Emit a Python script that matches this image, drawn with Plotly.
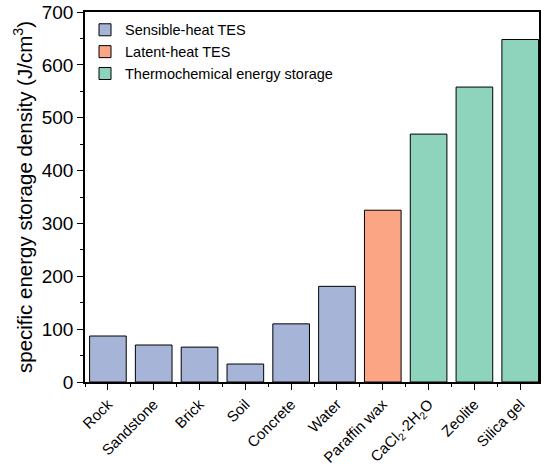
import plotly.graph_objects as go

categories = ["Rock", "Sandstone", "Brick", "Soil", "Concrete", "Water",
              "Paraffin wax", "CaCl<sub>2</sub>·2H<sub>2</sub>O", "Zeolite", "Silica gel"]
sensible_vals = [87, 70, 66, 34, 110, 181]
latent_vals = [325]
thermo_vals = [469, 558, 648]

idx = list(range(len(categories)))
fig = go.Figure()
fig.add_trace(go.Bar(x=idx[0:6], y=sensible_vals, name="Sensible-heat TES", width=0.8,
                     marker=dict(color="#A6B4D8", line=dict(color="black", width=1))))
fig.add_trace(go.Bar(x=idx[6:7], y=latent_vals, name="Latent-heat TES", width=0.8,
                     marker=dict(color="#FCA584", line=dict(color="black", width=1))))
fig.add_trace(go.Bar(x=idx[7:10], y=thermo_vals, name="Thermochemical energy storage", width=0.8,
                     marker=dict(color="#8ED3BB", line=dict(color="black", width=1))))

font = "Liberation Sans, Arial, sans-serif"
fig.update_layout(
    width=541, height=468,
    margin=dict(l=85, r=0, t=12, b=86),
    plot_bgcolor="white", paper_bgcolor="white",
    barmode="overlay",
    font=dict(family=font, color="black"),
    legend=dict(x=0.0, y=0.995, xanchor="left", yanchor="top",
                bgcolor="rgba(0,0,0,0)", font=dict(size=14.5, family=font),
                tracegroupgap=0, itemwidth=30),
    showlegend=True,
)
fig.update_xaxes(
    range=[-0.5, 9.41], tickmode="array", tickvals=idx, ticktext=categories,
    tickangle=-45, tickfont=dict(size=15), ticks="outside", ticklen=6, tickwidth=1,
    showline=True, linecolor="black", linewidth=1.5, mirror=True, showgrid=False,
    minor=dict(tickmode="linear", tick0=0.5, dtick=1, ticks="outside", ticklen=3, tickcolor="black"),
    tickcolor="black", zeroline=False,
)
fig.update_yaxes(
    range=[0, 700], dtick=100, tickfont=dict(size=19), ticks="outside", ticklen=6, tickwidth=1,
    showline=True, linecolor="black", linewidth=1.5, mirror=True, showgrid=False,
    minor=dict(dtick=50, ticks="outside", ticklen=3, tickcolor="black"),
    tickcolor="black", zeroline=False,
    title=dict(text="specific energy storage density (J/cm<sup>3</sup>)", font=dict(size=20.5), standoff=4),
)
fig.write_html("out.html")
